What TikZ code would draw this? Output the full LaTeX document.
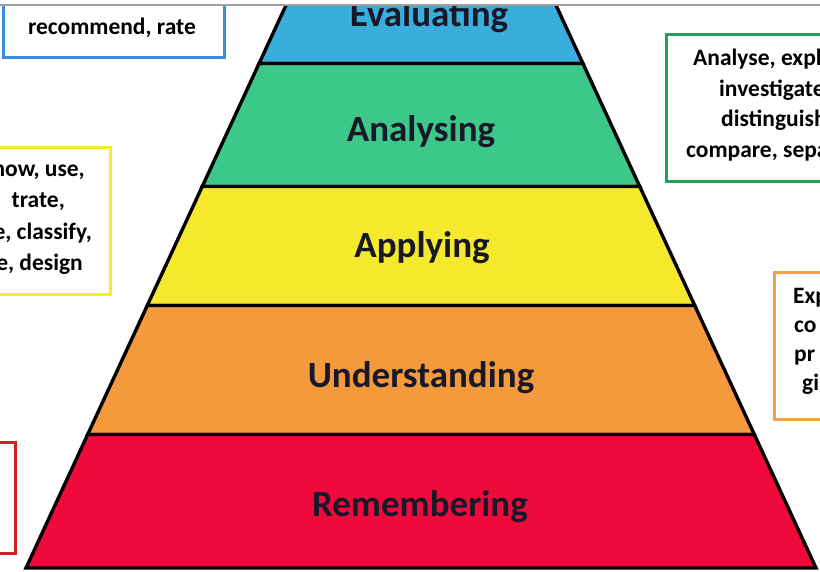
\documentclass[tikz,border=0pt]{standalone}
\usepackage{fontspec}
\setmainfont{Carlito}
\definecolor{evalc}{RGB}{58,174,219}
\definecolor{analc}{RGB}{60,200,138}
\definecolor{applc}{RGB}{245,233,45}
\definecolor{undc}{RGB}{243,154,60}
\definecolor{remc}{RGB}{240,10,60}
\definecolor{labelc}{RGB}{24,24,40}
\definecolor{bluebox}{RGB}{58,142,219}
\definecolor{yellowbox}{RGB}{243,236,48}
\definecolor{greenbox}{RGB}{34,163,90}
\definecolor{orangebox}{RGB}{243,160,74}
\definecolor{redbox}{RGB}{212,32,32}
\definecolor{topline}{RGB}{160,160,160}
\newcommand\pyrlayer[3]{%
  \pgfmathsetmacro\hwt{395-(568-#1)*0.462}%
  \pgfmathsetmacro\hwb{395-(568-#2)*0.462}%
  \path[layerbox, fill=#3] (421-\hwt,#1) -- (421+\hwt,#1) -- (421+\hwb,#2) -- (421-\hwb,#2) -- cycle;%
}
\begin{document}
\begin{tikzpicture}[x=1pt,y=-1pt,
  layerbox/.style={draw=black, line width=3.4pt, line join=miter},
  lvl/.style={font=\fontsize{37}{40}\selectfont\bfseries, text=labelc, anchor=base, inner sep=0pt},
  sidebox/.style={line width=3pt, fill=white},
  sidetext/.style={font=\fontsize{23.5}{29}\selectfont\bfseries, text=black, inner sep=0pt}]
\useasboundingbox (0,0) rectangle (820,572);
\fill[white] (0,0) rectangle (820,572);
\begin{scope}
\clip (0,5.5) rectangle (820,572);
% pyramid layers
\pyrlayer{-10}{63.5}{evalc}
\pyrlayer{63.5}{186.5}{analc}
\pyrlayer{186.5}{305.5}{applc}
\pyrlayer{305.5}{434.5}{undc}
\pyrlayer{434.5}{568}{remc}
\node[lvl] (evaluating) at (429,27) {Evaluating};
\node[lvl] (analysing) at (421,142) {Analysing};
\node[lvl] (applying) at (422,258) {Applying};
\node[lvl] (understanding) at (421,388) {Understanding};
\node[lvl] (remembering) at (420,516) {Remembering};
% side boxes
\draw[sidebox, draw=bluebox] (3,-10) rectangle (224,58);
\node[sidetext] (bluetext) at (112,35) [anchor=base] {recommend, rate};
\draw[sidebox, draw=yellowbox] (-20,148) rectangle (110,295);
\node[sidetext, anchor=base east] (y1) at (85,177) {now, use,};
\node[sidetext, anchor=base east] (y2) at (65,208) {trate,};
\node[sidetext, anchor=base east] (y3) at (92,240) {e, classify,};
\node[sidetext, anchor=base east] (y4) at (83,271) {e, design};
\draw[sidebox, draw=greenbox] (666,35) rectangle (840,182);
\node[sidetext, anchor=base west] (g1) at (693,66) {Analyse, expl};
\node[sidetext, anchor=base west] (g2) at (719,97) {investigate};
\node[sidetext, anchor=base west] (g3) at (721,127) {distinguish};
\node[sidetext, anchor=base west] (g4) at (686,158) {compare, sepa};
\draw[sidebox, draw=orangebox] (774,273) rectangle (840,419);
\node[sidetext, anchor=base west] (o1) at (793,304) {Exp};
\node[sidetext, anchor=base west] (o2) at (794,333) {co};
\node[sidetext, anchor=base west] (o3) at (794,361) {pr};
\node[sidetext, anchor=base west] (o4) at (802,390) {gi};
\draw[sidebox, draw=redbox] (-20,442) rectangle (15,553);
\end{scope}
\draw[topline, line width=1.3pt] (0,5) -- (820,5);
\end{tikzpicture}
\end{document}
